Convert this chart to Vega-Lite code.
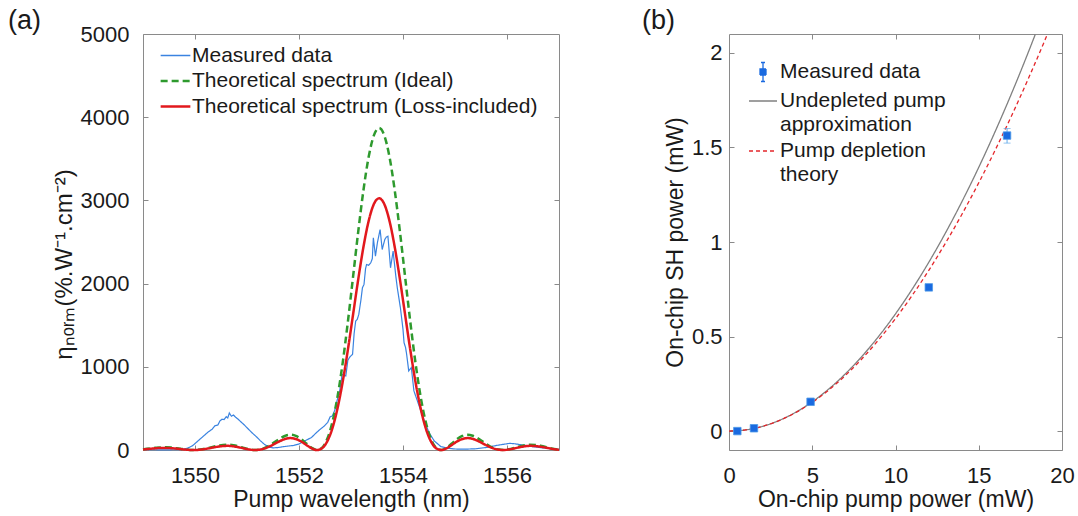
{
 "$schema": "https://vega.github.io/schema/vega-lite/v6.json",
 "autosize": {"type": "pad", "resize": false},
 "padding": {"left": 7, "top": 6, "right": 4, "bottom": 6},
 "background": "white",
 "bounds": "flush",
 "spacing": 170,
 "resolve": {"scale": {"color": "independent", "strokeDash": "independent"}, "legend": {"color": "independent", "strokeDash": "independent"}},
 "datasets": {
  "meas": [
   {"x":1549.0,"Measured data":5},{"x":1549.2,"Measured data":3},{"x":1549.4,"Measured data":2},{"x":1549.6,"Measured data":3},{"x":1549.75,"Measured data":5},{"x":1549.85,"Measured data":20},{"x":1549.95,"Measured data":50},{"x":1550.05,"Measured data":105},{"x":1550.15,"Measured data":160},{"x":1550.25,"Measured data":215},{"x":1550.33,"Measured data":250},{"x":1550.38,"Measured data":290},{"x":1550.44,"Measured data":300},{"x":1550.48,"Measured data":350},{"x":1550.52,"Measured data":370},{"x":1550.56,"Measured data":365},{"x":1550.6,"Measured data":400},{"x":1550.63,"Measured data":385},{"x":1550.66,"Measured data":445},{"x":1550.7,"Measured data":405},{"x":1550.74,"Measured data":420},{"x":1550.78,"Measured data":395},{"x":1550.83,"Measured data":370},{"x":1550.88,"Measured data":340},{"x":1550.95,"Measured data":300},{"x":1551.02,"Measured data":255},{"x":1551.1,"Measured data":205},{"x":1551.18,"Measured data":160},{"x":1551.26,"Measured data":110},{"x":1551.34,"Measured data":65},{"x":1551.42,"Measured data":35},{"x":1551.5,"Measured data":25},{"x":1551.6,"Measured data":30},{"x":1551.7,"Measured data":40},{"x":1551.8,"Measured data":48},{"x":1551.9,"Measured data":55},{"x":1552.0,"Measured data":72},{"x":1552.08,"Measured data":100},{"x":1552.16,"Measured data":125},{"x":1552.24,"Measured data":150},{"x":1552.32,"Measured data":200},{"x":1552.4,"Measured data":245},{"x":1552.48,"Measured data":285},{"x":1552.55,"Measured data":330},{"x":1552.6,"Measured data":400},{"x":1552.64,"Measured data":410},{"x":1552.69,"Measured data":480},{"x":1552.73,"Measured data":590},{"x":1552.78,"Measured data":700},{"x":1552.83,"Measured data":910},{"x":1552.86,"Measured data":900},{"x":1552.9,"Measured data":890},{"x":1552.94,"Measured data":1080},{"x":1552.98,"Measured data":1120},{"x":1553.03,"Measured data":1150},{"x":1553.06,"Measured data":1400},{"x":1553.09,"Measured data":1550},{"x":1553.12,"Measured data":1570},{"x":1553.15,"Measured data":1630},{"x":1553.19,"Measured data":1800},{"x":1553.22,"Measured data":1950},{"x":1553.25,"Measured data":1990},{"x":1553.28,"Measured data":2180},{"x":1553.3,"Measured data":2230},{"x":1553.34,"Measured data":2220},{"x":1553.38,"Measured data":2250},{"x":1553.41,"Measured data":2300},{"x":1553.43,"Measured data":2550},{"x":1553.47,"Measured data":2330},{"x":1553.51,"Measured data":2500},{"x":1553.56,"Measured data":2650},{"x":1553.6,"Measured data":2410},{"x":1553.65,"Measured data":2530},{"x":1553.68,"Measured data":2560},{"x":1553.71,"Measured data":2570},{"x":1553.76,"Measured data":2190},{"x":1553.81,"Measured data":2390},{"x":1553.86,"Measured data":2100},{"x":1553.89,"Measured data":1950},{"x":1553.95,"Measured data":1710},{"x":1554.0,"Measured data":1450},{"x":1554.02,"Measured data":1290},{"x":1554.05,"Measured data":1230},{"x":1554.07,"Measured data":1150},{"x":1554.11,"Measured data":950},{"x":1554.16,"Measured data":990},{"x":1554.21,"Measured data":710},{"x":1554.26,"Measured data":620},{"x":1554.31,"Measured data":530},{"x":1554.41,"Measured data":350},{"x":1554.5,"Measured data":210},{"x":1554.6,"Measured data":110},{"x":1554.73,"Measured data":40},{"x":1554.88,"Measured data":20},{"x":1555.0,"Measured data":12},{"x":1555.2,"Measured data":10},{"x":1555.4,"Measured data":15},{"x":1555.6,"Measured data":30},{"x":1555.8,"Measured data":55},{"x":1555.95,"Measured data":70},{"x":1556.05,"Measured data":80},{"x":1556.15,"Measured data":75},{"x":1556.3,"Measured data":60},{"x":1556.5,"Measured data":40},{"x":1556.7,"Measured data":25},{"x":1556.85,"Measured data":15},{"x":1557.0,"Measured data":8}
  ],
  "theory": [
   {"x":1549.0,"Theoretical spectrum (Ideal)":8,"Theoretical spectrum (Loss-included)":6},
   {"x":1549.04,"Theoretical spectrum (Ideal)":11,"Theoretical spectrum (Loss-included)":9},
   {"x":1549.14,"Theoretical spectrum (Ideal)":19,"Theoretical spectrum (Loss-included)":15},
   {"x":1549.24,"Theoretical spectrum (Ideal)":26,"Theoretical spectrum (Loss-included)":21},
   {"x":1549.34,"Theoretical spectrum (Ideal)":31,"Theoretical spectrum (Loss-included)":24},
   {"x":1549.44,"Theoretical spectrum (Ideal)":32,"Theoretical spectrum (Loss-included)":25},
   {"x":1549.54,"Theoretical spectrum (Ideal)":29,"Theoretical spectrum (Loss-included)":22},
   {"x":1549.64,"Theoretical spectrum (Ideal)":21,"Theoretical spectrum (Loss-included)":17},
   {"x":1549.74,"Theoretical spectrum (Ideal)":13,"Theoretical spectrum (Loss-included)":10},
   {"x":1549.84,"Theoretical spectrum (Ideal)":5,"Theoretical spectrum (Loss-included)":4},
   {"x":1549.94,"Theoretical spectrum (Ideal)":0,"Theoretical spectrum (Loss-included)":0},
   {"x":1550.04,"Theoretical spectrum (Ideal)":2,"Theoretical spectrum (Loss-included)":1},
   {"x":1550.14,"Theoretical spectrum (Ideal)":9,"Theoretical spectrum (Loss-included)":7},
   {"x":1550.24,"Theoretical spectrum (Ideal)":22,"Theoretical spectrum (Loss-included)":17},
   {"x":1550.34,"Theoretical spectrum (Ideal)":37,"Theoretical spectrum (Loss-included)":29},
   {"x":1550.44,"Theoretical spectrum (Ideal)":52,"Theoretical spectrum (Loss-included)":40},
   {"x":1550.54,"Theoretical spectrum (Ideal)":61,"Theoretical spectrum (Loss-included)":48},
   {"x":1550.64,"Theoretical spectrum (Ideal)":63,"Theoretical spectrum (Loss-included)":50},
   {"x":1550.74,"Theoretical spectrum (Ideal)":57,"Theoretical spectrum (Loss-included)":44},
   {"x":1550.84,"Theoretical spectrum (Ideal)":43,"Theoretical spectrum (Loss-included)":33},
   {"x":1550.94,"Theoretical spectrum (Ideal)":25,"Theoretical spectrum (Loss-included)":19},
   {"x":1551.04,"Theoretical spectrum (Ideal)":9,"Theoretical spectrum (Loss-included)":7},
   {"x":1551.14,"Theoretical spectrum (Ideal)":0,"Theoretical spectrum (Loss-included)":0},
   {"x":1551.24,"Theoretical spectrum (Ideal)":5,"Theoretical spectrum (Loss-included)":4},
   {"x":1551.34,"Theoretical spectrum (Ideal)":24,"Theoretical spectrum (Loss-included)":19},
   {"x":1551.44,"Theoretical spectrum (Ideal)":57,"Theoretical spectrum (Loss-included)":45},
   {"x":1551.54,"Theoretical spectrum (Ideal)":99,"Theoretical spectrum (Loss-included)":77},
   {"x":1551.64,"Theoretical spectrum (Ideal)":140,"Theoretical spectrum (Loss-included)":109},
   {"x":1551.74,"Theoretical spectrum (Ideal)":171,"Theoretical spectrum (Loss-included)":134},
   {"x":1551.84,"Theoretical spectrum (Ideal)":183,"Theoretical spectrum (Loss-included)":143},
   {"x":1551.94,"Theoretical spectrum (Ideal)":169,"Theoretical spectrum (Loss-included)":132},
   {"x":1552.04,"Theoretical spectrum (Ideal)":132,"Theoretical spectrum (Loss-included)":103},
   {"x":1552.14,"Theoretical spectrum (Ideal)":79,"Theoretical spectrum (Loss-included)":61},
   {"x":1552.24,"Theoretical spectrum (Ideal)":27,"Theoretical spectrum (Loss-included)":21},
   {"x":1552.34,"Theoretical spectrum (Ideal)":0,"Theoretical spectrum (Loss-included)":0},
   {"x":1552.44,"Theoretical spectrum (Ideal)":25,"Theoretical spectrum (Loss-included)":20},
   {"x":1552.54,"Theoretical spectrum (Ideal)":128,"Theoretical spectrum (Loss-included)":100},
   {"x":1552.64,"Theoretical spectrum (Ideal)":329,"Theoretical spectrum (Loss-included)":257},
   {"x":1552.74,"Theoretical spectrum (Ideal)":638,"Theoretical spectrum (Loss-included)":499},
   {"x":1552.84,"Theoretical spectrum (Ideal)":1048,"Theoretical spectrum (Loss-included)":819},
   {"x":1552.94,"Theoretical spectrum (Ideal)":1542,"Theoretical spectrum (Loss-included)":1205},
   {"x":1553.04,"Theoretical spectrum (Ideal)":2084,"Theoretical spectrum (Loss-included)":1629},
   {"x":1553.14,"Theoretical spectrum (Ideal)":2629,"Theoretical spectrum (Loss-included)":2055},
   {"x":1553.24,"Theoretical spectrum (Ideal)":3125,"Theoretical spectrum (Loss-included)":2443},
   {"x":1553.34,"Theoretical spectrum (Ideal)":3524,"Theoretical spectrum (Loss-included)":2754},
   {"x":1553.44,"Theoretical spectrum (Ideal)":3781,"Theoretical spectrum (Loss-included)":2956},
   {"x":1553.54,"Theoretical spectrum (Ideal)":3870,"Theoretical spectrum (Loss-included)":3025},
   {"x":1553.64,"Theoretical spectrum (Ideal)":3781,"Theoretical spectrum (Loss-included)":2956},
   {"x":1553.74,"Theoretical spectrum (Ideal)":3524,"Theoretical spectrum (Loss-included)":2754},
   {"x":1553.84,"Theoretical spectrum (Ideal)":3125,"Theoretical spectrum (Loss-included)":2443},
   {"x":1553.94,"Theoretical spectrum (Ideal)":2629,"Theoretical spectrum (Loss-included)":2055},
   {"x":1554.04,"Theoretical spectrum (Ideal)":2084,"Theoretical spectrum (Loss-included)":1629},
   {"x":1554.14,"Theoretical spectrum (Ideal)":1542,"Theoretical spectrum (Loss-included)":1205},
   {"x":1554.24,"Theoretical spectrum (Ideal)":1048,"Theoretical spectrum (Loss-included)":819},
   {"x":1554.34,"Theoretical spectrum (Ideal)":638,"Theoretical spectrum (Loss-included)":499},
   {"x":1554.44,"Theoretical spectrum (Ideal)":329,"Theoretical spectrum (Loss-included)":257},
   {"x":1554.54,"Theoretical spectrum (Ideal)":128,"Theoretical spectrum (Loss-included)":100},
   {"x":1554.64,"Theoretical spectrum (Ideal)":25,"Theoretical spectrum (Loss-included)":20},
   {"x":1554.74,"Theoretical spectrum (Ideal)":0,"Theoretical spectrum (Loss-included)":0},
   {"x":1554.84,"Theoretical spectrum (Ideal)":27,"Theoretical spectrum (Loss-included)":21},
   {"x":1554.94,"Theoretical spectrum (Ideal)":79,"Theoretical spectrum (Loss-included)":61},
   {"x":1555.04,"Theoretical spectrum (Ideal)":132,"Theoretical spectrum (Loss-included)":103},
   {"x":1555.14,"Theoretical spectrum (Ideal)":169,"Theoretical spectrum (Loss-included)":132},
   {"x":1555.24,"Theoretical spectrum (Ideal)":183,"Theoretical spectrum (Loss-included)":143},
   {"x":1555.34,"Theoretical spectrum (Ideal)":171,"Theoretical spectrum (Loss-included)":134},
   {"x":1555.44,"Theoretical spectrum (Ideal)":140,"Theoretical spectrum (Loss-included)":109},
   {"x":1555.54,"Theoretical spectrum (Ideal)":99,"Theoretical spectrum (Loss-included)":77},
   {"x":1555.64,"Theoretical spectrum (Ideal)":57,"Theoretical spectrum (Loss-included)":45},
   {"x":1555.74,"Theoretical spectrum (Ideal)":24,"Theoretical spectrum (Loss-included)":19},
   {"x":1555.84,"Theoretical spectrum (Ideal)":5,"Theoretical spectrum (Loss-included)":4},
   {"x":1555.94,"Theoretical spectrum (Ideal)":0,"Theoretical spectrum (Loss-included)":0},
   {"x":1556.04,"Theoretical spectrum (Ideal)":9,"Theoretical spectrum (Loss-included)":7},
   {"x":1556.14,"Theoretical spectrum (Ideal)":25,"Theoretical spectrum (Loss-included)":19},
   {"x":1556.24,"Theoretical spectrum (Ideal)":43,"Theoretical spectrum (Loss-included)":33},
   {"x":1556.34,"Theoretical spectrum (Ideal)":57,"Theoretical spectrum (Loss-included)":44},
   {"x":1556.44,"Theoretical spectrum (Ideal)":63,"Theoretical spectrum (Loss-included)":50},
   {"x":1556.54,"Theoretical spectrum (Ideal)":61,"Theoretical spectrum (Loss-included)":48},
   {"x":1556.64,"Theoretical spectrum (Ideal)":52,"Theoretical spectrum (Loss-included)":40},
   {"x":1556.74,"Theoretical spectrum (Ideal)":37,"Theoretical spectrum (Loss-included)":29},
   {"x":1556.84,"Theoretical spectrum (Ideal)":22,"Theoretical spectrum (Loss-included)":17},
   {"x":1556.94,"Theoretical spectrum (Ideal)":9,"Theoretical spectrum (Loss-included)":7},
   {"x":1557.0,"Theoretical spectrum (Ideal)":4,"Theoretical spectrum (Loss-included)":3}
  ],
  "pts": [
   {"p":0.5,"sh":0.0,"lo":-0.006,"hi":0.006},
   {"p":1.5,"sh":0.015,"lo":0.009,"hi":0.021},
   {"p":4.9,"sh":0.155,"lo":0.148,"hi":0.162},
   {"p":12.0,"sh":0.76,"lo":0.75,"hi":0.77},
   {"p":16.7,"sh":1.563,"lo":1.523,"hi":1.6}
  ],
  "curves": [
   {"p":0,"s":"Undepleted pump|approximation","v":0},
   {"p":1,"s":"Undepleted pump|approximation","v":0.0062},
   {"p":2,"s":"Undepleted pump|approximation","v":0.0248},
   {"p":3,"s":"Undepleted pump|approximation","v":0.0558},
   {"p":4,"s":"Undepleted pump|approximation","v":0.0992},
   {"p":5,"s":"Undepleted pump|approximation","v":0.155},
   {"p":6,"s":"Undepleted pump|approximation","v":0.2232},
   {"p":7,"s":"Undepleted pump|approximation","v":0.3038},
   {"p":8,"s":"Undepleted pump|approximation","v":0.3968},
   {"p":9,"s":"Undepleted pump|approximation","v":0.5022},
   {"p":10,"s":"Undepleted pump|approximation","v":0.62},
   {"p":11,"s":"Undepleted pump|approximation","v":0.7502},
   {"p":12,"s":"Undepleted pump|approximation","v":0.8928},
   {"p":13,"s":"Undepleted pump|approximation","v":1.0478},
   {"p":14,"s":"Undepleted pump|approximation","v":1.2152},
   {"p":15,"s":"Undepleted pump|approximation","v":1.395},
   {"p":16,"s":"Undepleted pump|approximation","v":1.5872},
   {"p":17,"s":"Undepleted pump|approximation","v":1.7918},
   {"p":18,"s":"Undepleted pump|approximation","v":2.0088},
   {"p":18.4,"s":"Undepleted pump|approximation","v":2.099},
   {"p":0,"s":"Pump depletion|theory","v":0},
   {"p":1,"s":"Pump depletion|theory","v":0.0062},
   {"p":2,"s":"Pump depletion|theory","v":0.0246},
   {"p":3,"s":"Pump depletion|theory","v":0.0551},
   {"p":4,"s":"Pump depletion|theory","v":0.0976},
   {"p":5,"s":"Pump depletion|theory","v":0.1519},
   {"p":6,"s":"Pump depletion|theory","v":0.2178},
   {"p":7,"s":"Pump depletion|theory","v":0.2953},
   {"p":8,"s":"Pump depletion|theory","v":0.384},
   {"p":9,"s":"Pump depletion|theory","v":0.484},
   {"p":10,"s":"Pump depletion|theory","v":0.5952},
   {"p":11,"s":"Pump depletion|theory","v":0.7173},
   {"p":12,"s":"Pump depletion|theory","v":0.8502},
   {"p":13,"s":"Pump depletion|theory","v":0.9939},
   {"p":14,"s":"Pump depletion|theory","v":1.1481},
   {"p":15,"s":"Pump depletion|theory","v":1.3131},
   {"p":16,"s":"Pump depletion|theory","v":1.4883},
   {"p":17,"s":"Pump depletion|theory","v":1.673},
   {"p":18,"s":"Pump depletion|theory","v":1.8684},
   {"p":19,"s":"Pump depletion|theory","v":2.073},
   {"p":19.1,"s":"Pump depletion|theory","v":2.094}
  ]
 },
 "hconcat": [
  {
   "width": 416, "height": 416,
   "title": {"text": "(a)", "anchor": "start", "frame": "group", "dx": -135, "fontSize": 27, "fontWeight": "normal", "baseline": "alphabetic", "offset": -33, "color": "#1a1a1a"},
   "resolve": {"axis": {"x": "independent", "y": "independent"}},
   "layer": [
    {
     "data": {"name": "meas"},
     "transform": [{"fold": ["Measured data"], "as": ["s", "v"]}],
     "mark": {"type": "line", "strokeWidth": 1.2},
     "encoding": {
      "x": {"field": "x", "type": "quantitative", "scale": {"domain": [1549, 1557], "nice": false, "zero": false},
            "axis": {"orient": "bottom", "values": [1550, 1552, 1554, 1556], "format": "d", "title": "Pump wavelength (nm)", "labelPadding": 20, "titlePadding": 2}},
      "y": {"field": "v", "type": "quantitative", "scale": {"domain": [0, 5000], "nice": false},
            "axis": {"orient": "left", "values": [0, 1000, 2000, 3000, 4000, 5000], "format": "d", "title": "ηₙₒᵣₘ(%.W⁻¹.cm⁻²)", "titleFontSize": 24, "titleY": 230, "labelPadding": 19, "titlePadding": 4}},
      "color": {"field": "s", "type": "nominal",
                "scale": {"domain": ["Measured data", "Theoretical spectrum (Ideal)", "Theoretical spectrum (Loss-included)"], "range": ["#3a83e0", "#2e9a2e", "#e2181d"]},
                "legend": {"orient": "none", "legendX": 22, "legendY": 11, "title": null, "labelFontSize": 21, "labelLimit": 500, "symbolType": "M-1.35,0H1.35", "symbolSize": 484, "labelOffset": 6, "rowPadding": 3.5,
                           "encode": {"symbols": {"update": {"strokeWidth": {"signal": "datum.value === 'Measured data' ? 1.3 : 2.5"}}}}}
      },
      "strokeDash": {"field": "s", "type": "nominal",
                "scale": {"domain": ["Measured data", "Theoretical spectrum (Ideal)", "Theoretical spectrum (Loss-included)"], "range": [[1, 0], [7, 4], [1, 0]]},
                "legend": {"orient": "none", "legendX": 22, "legendY": 11, "title": null, "labelFontSize": 21, "labelLimit": 500, "symbolType": "M-1.35,0H1.35", "symbolSize": 484, "labelOffset": 6, "rowPadding": 3.5,
                           "encode": {"symbols": {"update": {"strokeWidth": {"signal": "datum.value === 'Measured data' ? 1.3 : 2.5"}}}}}
      }
     }
    },
    {
     "data": {"name": "theory"},
     "transform": [{"fold": ["Theoretical spectrum (Ideal)", "Theoretical spectrum (Loss-included)"], "as": ["s", "v"]}],
     "mark": {"type": "line", "strokeWidth": 2.5, "interpolate": "monotone"},
     "encoding": {
      "x": {"field": "x", "type": "quantitative", "scale": {"domain": [1549, 1557], "nice": false, "zero": false}, "axis": null},
      "y": {"field": "v", "type": "quantitative", "scale": {"domain": [0, 5000], "nice": false}, "axis": null},
      "color": {"field": "s", "type": "nominal"},
      "strokeDash": {"field": "s", "type": "nominal"}
     }
    },
    {
     "data": {"name": "theory"},
     "mark": {"type": "line", "opacity": 0},
     "encoding": {
      "x": {"field": "x", "type": "quantitative", "scale": {"domain": [1549, 1557], "nice": false, "zero": false},
            "axis": {"orient": "top", "values": [1550, 1552, 1554, 1556], "labels": false, "title": null, "minExtent": 0, "maxExtent": 0}},
      "y": {"field": "Theoretical spectrum (Ideal)", "type": "quantitative", "scale": {"domain": [0, 5000], "nice": false},
            "axis": {"orient": "right", "values": [1000, 2000, 3000, 4000], "labels": false, "title": null, "minExtent": 0, "maxExtent": 0}}
     }
    }
   ]
  },
  {
   "width": 333, "height": 416,
   "title": {"text": "(b)", "anchor": "start", "frame": "group", "dx": -87, "fontSize": 27, "fontWeight": "normal", "baseline": "alphabetic", "offset": -22, "color": "#1a1a1a"},
   "resolve": {"axis": {"x": "independent", "y": "independent"}},
   "layer": [
    {
     "data": {"name": "curves"},
     "mark": {"type": "line", "strokeWidth": 1.3, "interpolate": "monotone", "clip": true},
     "encoding": {
      "x": {"field": "p", "type": "quantitative", "scale": {"domain": [0, 20], "nice": false},
            "axis": {"orient": "bottom", "values": [0, 5, 10, 15, 20], "format": "d", "title": "On-chip pump power (mW)", "labelPadding": 20, "titlePadding": 2}},
      "y": {"field": "v", "type": "quantitative", "scale": {"domain": [-0.1, 2.1], "nice": false, "zero": false},
            "axis": {"orient": "left", "values": [0, 0.5, 1, 1.5, 2], "format": "~g", "title": "On-chip SH power (mW)", "labelPadding": 12, "titlePadding": 4}},
      "color": {"field": "s", "type": "nominal",
                "scale": {"domain": ["Measured data", "Undepleted pump|approximation", "Pump depletion|theory"], "range": ["#1a6ae0", "#808080", "#e4262b"]},
                "legend": {"orient": "none", "legendX": 23, "legendY": 27, "title": null, "labelFontSize": 21, "labelLimit": 500, "symbolType": "M-1.4,0H1.4", "symbolSize": 400, "labelOffset": 6, "rowPadding": 5,
                           "labelExpr": "split(datum.label, '|')",
                           "encode": {
                            "labels": {"update": {"lineHeight": {"value": 24}}},
                            "symbols": {"update": {
                              "shape": {"signal": "datum.value === 'Measured data' ? 'M-0.2,-0.95H0.2M0,-0.95V0.95M-0.2,0.95H0.2M-0.3,-0.3H0.3V0.3H-0.3Z' : 'M-1.4,0H1.4'"},
                              "fill": {"signal": "datum.value === 'Measured data' ? '#1a6ae0' : 'transparent'"},
                              "stroke": {"signal": "datum.value === 'Measured data' ? '#62aaea' : datum.value === 'Pump depletion|theory' ? '#e4262b' : '#808080'"},
                              "strokeDash": {"signal": "datum.value === 'Pump depletion|theory' ? [4, 3] : [1, 0]"},
                              "strokeWidth": {"value": 1.3}}}}}
                },
      "strokeDash": {"field": "s", "type": "nominal",
                "scale": {"domain": ["Measured data", "Undepleted pump|approximation", "Pump depletion|theory"], "range": [[1, 0], [1, 0], [4, 3]]},
                "legend": null}
     }
    },
    {
     "data": {"name": "pts"},
     "mark": {"type": "rule", "color": "#62aaea", "strokeWidth": 1},
     "encoding": {
      "x": {"field": "p", "type": "quantitative", "axis": null},
      "y": {"field": "lo", "type": "quantitative", "axis": null},
      "y2": {"field": "hi"}
     }
    },
    {
     "data": {"name": "pts"},
     "mark": {"type": "tick", "orient": "horizontal", "color": "#62aaea", "size": 7, "thickness": 1},
     "encoding": {
      "x": {"field": "p", "type": "quantitative", "axis": null},
      "y": {"field": "hi", "type": "quantitative", "axis": null}
     }
    },
    {
     "data": {"name": "pts"},
     "mark": {"type": "tick", "orient": "horizontal", "color": "#62aaea", "size": 7, "thickness": 1},
     "encoding": {
      "x": {"field": "p", "type": "quantitative", "axis": null},
      "y": {"field": "lo", "type": "quantitative", "axis": null}
     }
    },
    {
     "data": {"name": "pts"},
     "mark": {"type": "point", "shape": "square", "filled": true, "size": 56, "color": "#1a6ae0", "stroke": "#4f9be8", "strokeWidth": 0.8, "opacity": 1},
     "encoding": {
      "x": {"field": "p", "type": "quantitative", "axis": null},
      "y": {"field": "sh", "type": "quantitative", "axis": null}
     }
    },
    {
     "data": {"name": "pts"},
     "mark": {"type": "point", "opacity": 0},
     "encoding": {
      "x": {"field": "p", "type": "quantitative",
            "axis": {"orient": "top", "values": [5, 10, 15], "labels": false, "title": null, "minExtent": 0, "maxExtent": 0}},
      "y": {"field": "sh", "type": "quantitative",
            "axis": {"orient": "right", "values": [0, 0.5, 1, 1.5, 2], "labels": false, "title": null, "minExtent": 0, "maxExtent": 0}}
     }
    }
   ]
  }
 ],
 "config": {
  "font": "Liberation Sans",
  "view": {"stroke": "#8a8a8a", "strokeWidth": 1},
  "axis": {"grid": false, "domain": false, "tickColor": "#8a8a8a", "tickSize": -5, "tickWidth": 1, "labelFlush": false,
           "labelFont": "Liberation Sans", "labelFontSize": 22, "labelColor": "#1a1a1a",
           "titleFont": "Liberation Sans", "titleFontSize": 23, "titleFontWeight": "normal", "titleColor": "#1a1a1a"},
  "legend": {"labelFont": "Liberation Sans", "labelColor": "#1a1a1a", "padding": 0, "titlePadding": 0},
  "title": {"font": "Liberation Sans"}
 }
}
